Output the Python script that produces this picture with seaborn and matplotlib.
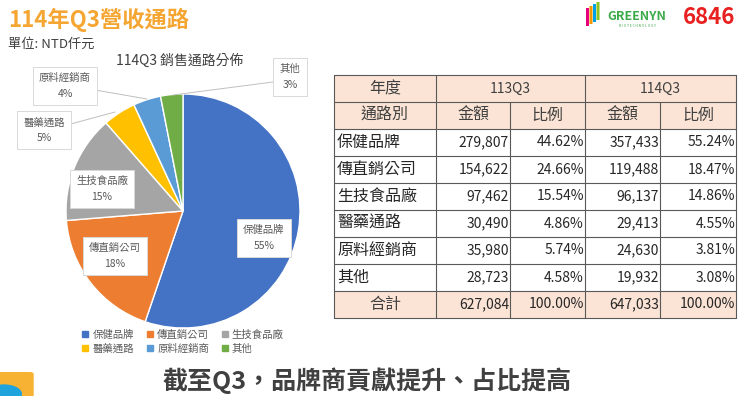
import numpy as np
import pandas as pd
import seaborn as sns
import matplotlib.pyplot as plt
from matplotlib.patches import Rectangle, FancyBboxPatch, Circle
from matplotlib.lines import Line2D

# data
channels = ["保健品牌", "傳直銷公司", "生技食品廠", "醫藥通路", "原料經銷商", "其他"]
amt_113 = [279807, 154622, 97462, 30490, 35980, 28723]
pct_113 = [44.62, 24.66, 15.54, 4.86, 5.74, 4.58]
amt_114 = [357433, 119488, 96137, 29413, 24630, 19932]
pct_114 = [55.24, 18.47, 14.86, 4.55, 3.81, 3.08]
total_113 = 627084
total_114 = 647033

sns.set_theme(style="white")
plt.rcParams["font.family"] = ["Noto Sans CJK TC", "DejaVu Sans"]

colors = ["#4472C4", "#ED7D31", "#A5A5A5", "#FFC000", "#5B9BD5", "#70AD47"]
sns.set_palette(colors)

W, H = 740, 396
fig = plt.figure(figsize=(7.4, 3.96), dpi=100)
fig.patch.set_facecolor("white")

# titles
fig.text(8 / W, 1 - 20 / H, "114年Q3營收通路", fontsize=16, fontweight="bold",
         color="#F5A531", va="center", ha="left")
fig.text(8 / W, 1 - 44 / H, "單位: NTD仟元", fontsize=9.5, color="#404040",
         va="center", ha="left")
fig.text(637 / W, 1 - 17 / H, "GREENYN", fontsize=9, color="#3BAA48",
         fontweight="bold", va="center", ha="center")
fig.text(637 / W, 1 - 26 / H, "B I O T E C H N O L O G Y", fontsize=2.4, color="#3BAA48",
         va="center", ha="center")
fig.text(735 / W, 1 - 18 / H, "6846", fontsize=16, color="#E8201F", fontweight="bold",
         va="center", ha="right")
fig.text(367 / W, 1 - 381 / H, "截至Q3，品牌商貢獻提升、占比提高", fontsize=18,
         fontweight="bold", color="#404040", va="center", ha="center")
fig.text(180 / W, 1 - 61 / H, "114Q3 銷售通路分佈", fontsize=10, color="#404040",
         va="center", ha="center")

# small logo petals and corner decoration
for i, c in enumerate(["#E6007E", "#F39800", "#00A0E9", "#8FC31F"]):
    fig.patches.append(FancyBboxPatch(((586 + i * 3.5) / W, 1 - (26 - i * 2) / H), 3 / W, 18 / H,
                                      boxstyle="round,pad=0", transform=fig.transFigure,
                                      facecolor=c, edgecolor="none"))
fig.patches.append(FancyBboxPatch((0 / W, 0), 30 / W, 22 / H, boxstyle="round,pad=0.005",
                                  transform=fig.transFigure, facecolor="#F7B233",
                                  edgecolor="none"))
fig.patches.append(Circle((4 / W, 2 / H), 18 / W, transform=fig.transFigure,
                          facecolor="#1FA3DD", edgecolor="none"))

# pie chart
cx, cy, r = 183, 211, 117
ax = fig.add_axes([(cx - r) / W, 1 - (cy + r) / H, 2 * r / W, 2 * r / H])
wedges, _ = ax.pie(amt_114, colors=colors, startangle=90, counterclock=False,
                   wedgeprops=dict(edgecolor="white", linewidth=1))
ax.set_xlim(-1, 1)
ax.set_ylim(-1, 1)

def px(x, y):
    return (x - cx) / r, -(y - cy) / r

label_pos = [(264, 238), (115, 256), (102, 189), (44, 130), (65, 86), (290, 77)]
leader = {3: ((67, 125), (115, 112)), 4: ((95, 90), (147, 99)), 5: ((273, 82), (173, 95))}
for i, (name, p) in enumerate(zip(channels, pct_114)):
    if i in leader:
        (x0, y0), (x1, y1) = leader[i]
        a, b = px(x0, y0)
        c, d = px(x1, y1)
        ax.add_line(Line2D([a, c], [b, d], color="#BFBFBF", lw=0.7, clip_on=False))
    lx, ly = px(*label_pos[i])
    ax.text(lx, ly, f"{name}\n{p:.0f}%", fontsize=7.5, color="#595959", ha="center",
            va="center", linespacing=1.7, clip_on=False,
            bbox=dict(boxstyle="square,pad=0.6", facecolor="white", edgecolor="#D9D9D9",
                      linewidth=0.7))

order = [0, 3, 1, 4, 2, 5]
handles = [Line2D([], [], marker="s", linestyle="none", markersize=5,
                  markerfacecolor=colors[i], markeredgecolor=colors[i]) for i in order]
fig.legend(handles, [channels[i] for i in order], ncol=3, frameon=False,
           loc="center", bbox_to_anchor=(182 / W, 1 - 342 / H), fontsize=7.5,
           labelcolor="#595959", handletextpad=0.2, columnspacing=1.0,
           labelspacing=0.35, handlelength=1.0)

# table
col_edges = [334, 436, 510, 585, 660, 736]
top, row_h = 75, 27
n_rows = 9
tax = fig.add_axes([col_edges[0] / W, 1 - (top + n_rows * row_h) / H,
                    (col_edges[-1] - col_edges[0]) / W, n_rows * row_h / H])
tax.set_xlim(col_edges[0], col_edges[-1])
tax.set_ylim(top + n_rows * row_h, top)
tax.axis("off")

head_fill = "#FBE4D5"
line_c = "#595959"
txt_c = "#262626"
for row in [0, 1, n_rows - 1]:
    tax.add_patch(Rectangle((col_edges[0], top + row * row_h), col_edges[-1] - col_edges[0],
                            row_h, facecolor=head_fill, edgecolor="none"))

for row in range(n_rows + 1):
    tax.plot([col_edges[0], col_edges[-1]], [top + row * row_h] * 2, color=line_c, lw=0.8,
             clip_on=False)
for j, x in enumerate(col_edges):
    y0 = top + row_h if j in (2, 4) else top
    tax.plot([x, x], [y0, top + n_rows * row_h], color=line_c, lw=0.8, clip_on=False)

def cell_y(row):
    return top + row * row_h + row_h / 2

def mid(a, b):
    return (col_edges[a] + col_edges[b]) / 2

fs = 10
fs_cjk = 11.5
tax.text(mid(0, 1), cell_y(0), "年度", ha="center", va="center", fontsize=fs_cjk, color="#404040")
tax.text(mid(1, 3), cell_y(0), "113Q3", ha="center", va="center", fontsize=fs, color="#404040")
tax.text(mid(3, 5), cell_y(0), "114Q3", ha="center", va="center", fontsize=fs, color="#404040")
for j, h in enumerate(["通路別", "金額", "比例", "金額", "比例"]):
    tax.text(mid(j, j + 1), cell_y(1), h, ha="center", va="center", fontsize=fs_cjk,
             color="#404040")

table = pd.DataFrame({"ch": channels, "a13": amt_113, "p13": pct_113,
                      "a14": amt_114, "p14": pct_114})
for i, rec in table.iterrows():
    y = cell_y(i + 2)
    tax.text(col_edges[0] + 3, y, rec["ch"], ha="left", va="center", fontsize=fs_cjk,
             color=txt_c)
    vals = [f"{rec['a13']:,}", f"{rec['p13']:.2f}%", f"{rec['a14']:,}", f"{rec['p14']:.2f}%"]
    for j, v in enumerate(vals):
        tax.text(col_edges[j + 2] - 1, y, v, ha="right", va="center", fontsize=fs, color=txt_c)

y = cell_y(n_rows - 1)
tax.text(mid(0, 1), y, "合計", ha="center", va="center", fontsize=fs_cjk, color="#404040")
for j, v in enumerate([f"{total_113:,}", "100.00%", f"{total_114:,}", "100.00%"]):
    tax.text(col_edges[j + 2] - 1, y, v, ha="right", va="center", fontsize=fs, color=txt_c)

plt.savefig("out.png", dpi=100, facecolor="white")
